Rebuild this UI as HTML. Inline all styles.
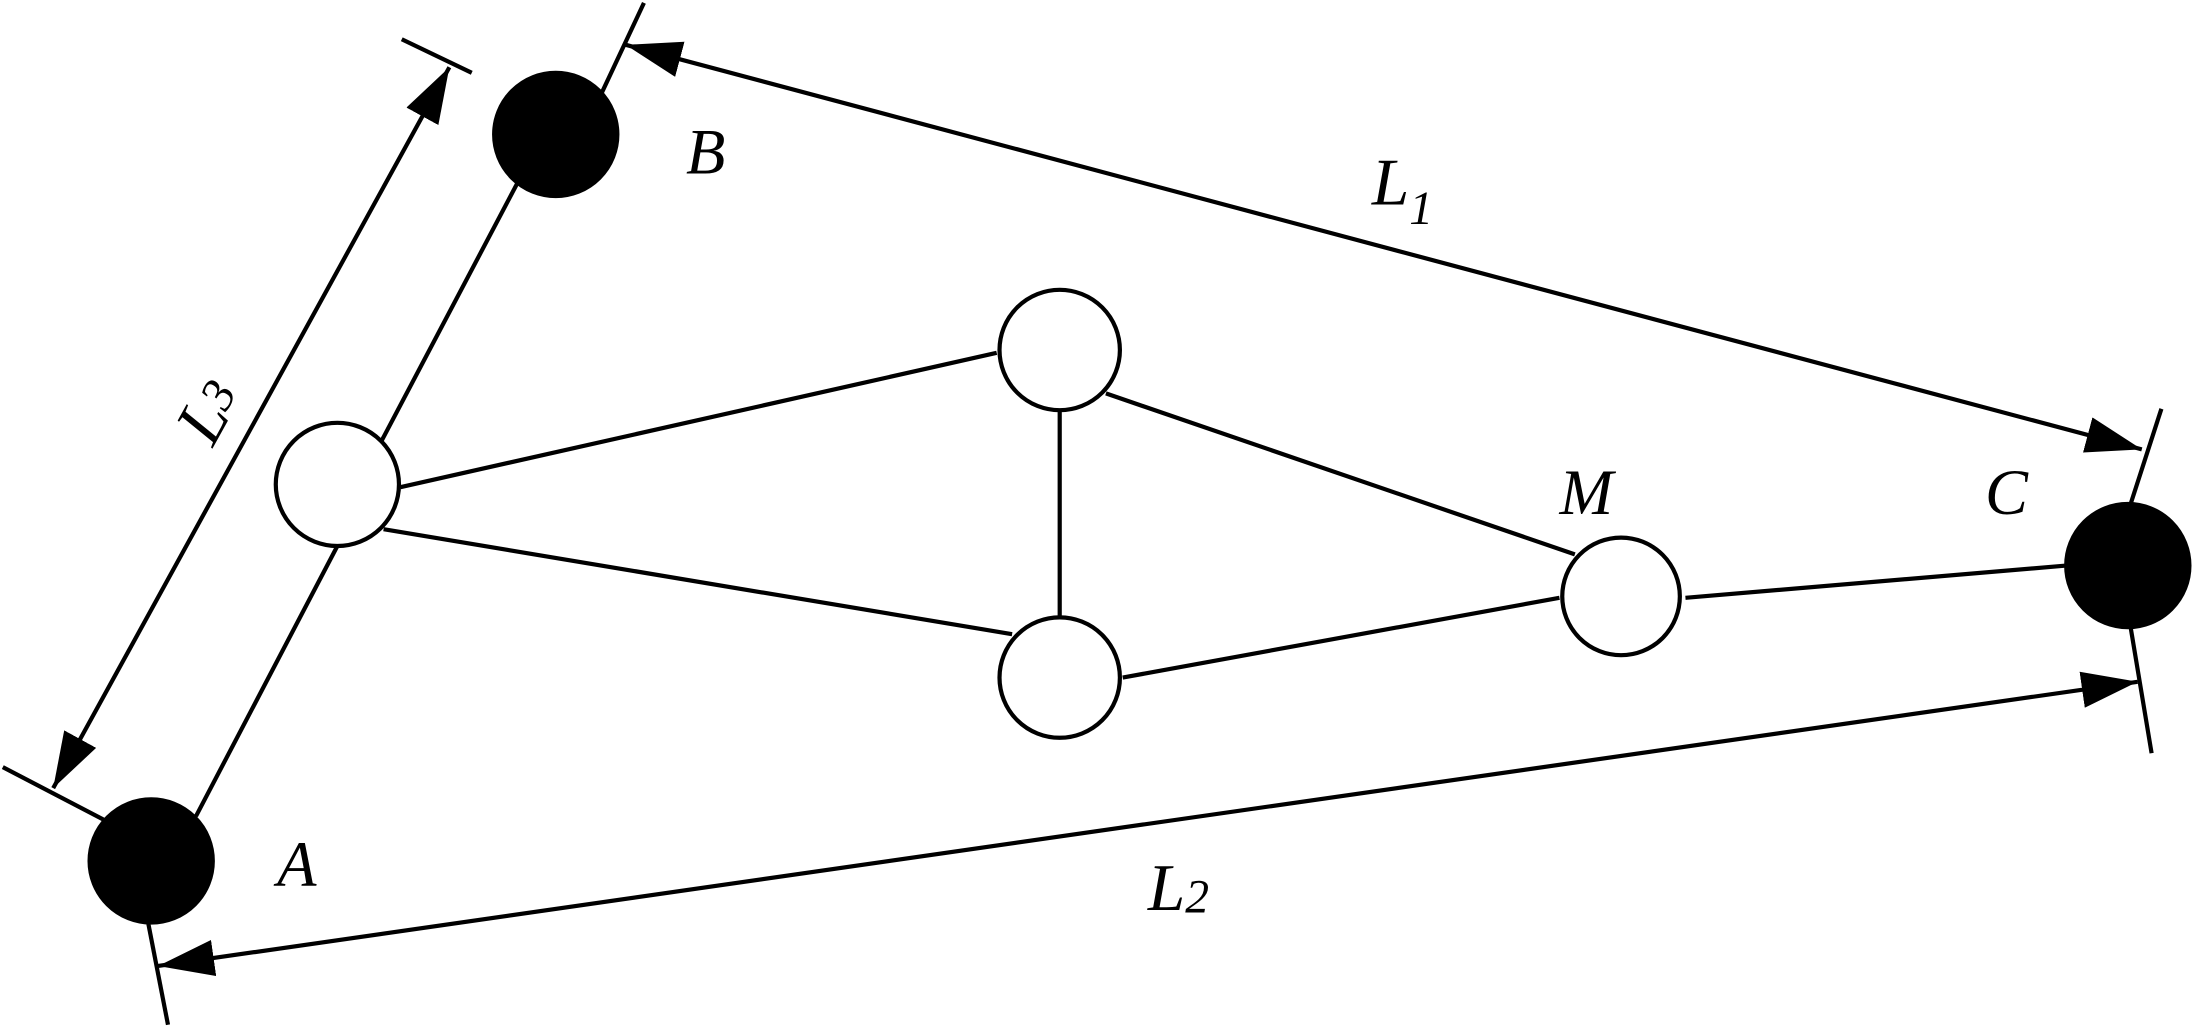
<!DOCTYPE html>
<html><head><meta charset="utf-8"><style>
html,body{margin:0;padding:0;background:#fff;}
svg{display:block;}
text{font-family:"Liberation Serif",serif;font-style:italic;fill:#000;}
</style></head><body>
<svg width="2195" height="1028" viewBox="0 0 1568 734.3" xmlns="http://www.w3.org/2000/svg">
<defs>
<marker id="ar" markerWidth="42" markerHeight="26" refX="40" refY="13" orient="auto-start-reverse" markerUnits="userSpaceOnUse">
<path d="M0,0 L40,13 L0,26 Z" fill="#000"/>
</marker>
</defs>
<g stroke="#000" stroke-width="3" fill="none">
<line x1="370" y1="130" x2="272" y2="316"/>
<line x1="241" y1="390" x2="140" y2="583"/>
<line x1="286" y1="348" x2="712" y2="252"/>
<line x1="274" y1="378" x2="723" y2="453"/>
<line x1="757" y1="293" x2="757" y2="441"/>
<line x1="790" y1="281" x2="1125" y2="396"/>
<line x1="802" y1="484" x2="1114" y2="427"/>
<line x1="1204" y1="427" x2="1476" y2="404"/>
<line x1="287" y1="28" x2="337" y2="52"/>
<line x1="430" y1="66" x2="460" y2="2"/>
<line x1="2" y1="548" x2="75" y2="586"/>
<line x1="106" y1="660" x2="120" y2="732"/>
<line x1="1522" y1="360" x2="1544" y2="292"/>
<line x1="1522" y1="448" x2="1537" y2="538"/>
<line x1="447" y1="32" x2="1530" y2="321" marker-start="url(#ar)" marker-end="url(#ar)"/>
<line x1="321" y1="48" x2="38" y2="563" marker-start="url(#ar)" marker-end="url(#ar)"/>
<line x1="113" y1="690" x2="1527" y2="487" marker-start="url(#ar)" marker-end="url(#ar)"/>
</g>
<g stroke="#000" stroke-width="3">
<circle cx="397" cy="96" r="44" fill="#000"/>
<circle cx="108" cy="615" r="44" fill="#000"/>
<circle cx="1520" cy="404" r="44" fill="#000"/>
<circle cx="241" cy="346" r="44" fill="#fff"/>
<circle cx="757" cy="250" r="43" fill="#fff"/>
<circle cx="757" cy="484" r="43" fill="#fff"/>
<circle cx="1158" cy="426" r="42" fill="#fff"/>
</g>
<text x="490" y="124" font-size="46">B</text>
<text x="198" y="633" font-size="46">A</text>
<text x="1418" y="367" font-size="46">C</text>
<text x="1114" y="367" font-size="46">M</text>
<text x="980" y="146" font-size="48">L<tspan font-size="34" dy="14">1</tspan></text>
<text x="820" y="650" font-size="48">L<tspan font-size="34" dy="2">2</tspan></text>
<text transform="translate(152,320) rotate(-61)" font-size="48">L<tspan font-size="34" dy="-4">3</tspan></text>
</svg>
</body></html>
